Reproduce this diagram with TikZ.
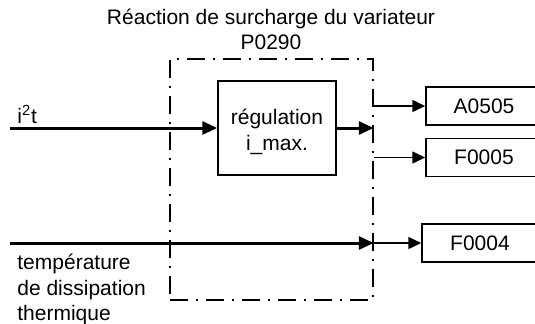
\documentclass[tikz,border=0pt]{standalone}
\usepackage{fontspec}
\setmainfont{Liberation Sans}
\usetikzlibrary{positioning,arrows.meta,calc}
\tikzset{
  flow/.style={-{Triangle[length=6.5pt,width=6pt]},line width=0.75pt},
  thickflow/.style={-{Triangle[length=7.5pt,width=6.5pt]},line width=1.5pt},
  box/.style={draw,line width=0.75pt,inner sep=0pt,align=center,
    font=\fontsize{10.5}{12.75}\selectfont},
  dashbox/.style={draw,line width=0.75pt,
    dash pattern=on 9pt off 4pt on 1pt off 4pt},
  lbl/.style={inner sep=0pt,font=\fontsize{10.5}{12.75}\selectfont}
}

\begin{document}
\begin{tikzpicture}[x=0.5pt,y=-0.5pt]
  \useasboundingbox (0,0) rectangle (535,323);
  \clip (0,0) rectangle (535,323);
  \node[lbl,align=center,anchor=north] (titre) at (271,8.5)
    {Réaction de surcharge du variateur\\P0290};
  \node[dashbox,minimum width=101.5pt,minimum height=120.5pt] (p0290) at (271.5,179.5) {};
  \node[box,minimum width=59pt,minimum height=47pt] (reg) at (277,128) {};
  \node[lbl,align=center] (lreg) at (277,132) {régulation\\i\_max.};
  \node[box,minimum width=58pt,minimum height=19pt] (a0505) at (484,106) {A0505};
  \node[box,minimum width=58pt,minimum height=19pt,below=6pt of a0505] (f0005) {F0005};
  \node[box,minimum width=58pt,minimum height=19pt] (f0004) at (480,243) {F0004};
  \coordinate (i2t) at (10,128);
  \coordinate (temp) at (10,243);
  \node[lbl,anchor=base west] (li2t) at (17,123) {i\textsuperscript{2}t};
  \node[lbl,align=left,anchor=north west] (ltemp) at (17,254)
    {température\\de dissipation\\thermique};
  % signaux
  \draw[thickflow] (i2t) -- (reg.west);
  \draw[thickflow] (reg.east) -- (reg.east -| p0290.east);
  \draw[flow] (a0505.west -| p0290.east) -- (a0505.west);
  \draw[flow] (f0005.west -| p0290.east) -- (f0005.west);
  \draw[thickflow] (temp) -- (temp -| p0290.east);
  \draw[flow] (temp -| p0290.east) -- (f0004.west);
\end{tikzpicture}
\end{document}
